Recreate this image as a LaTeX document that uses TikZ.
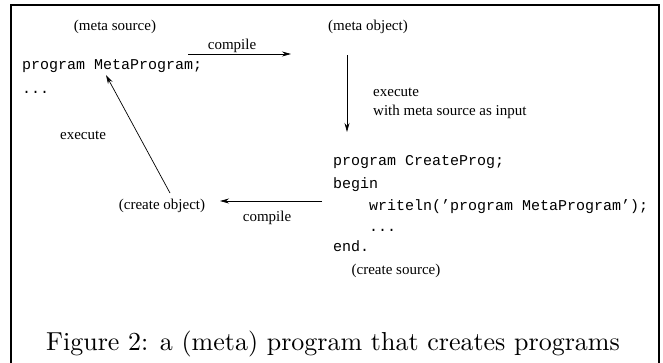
\documentclass[tikz,border=0pt]{standalone}
\usepackage{fontspec}
\usetikzlibrary{arrows.meta, positioning}
\newfontfamily\lblfont{Liberation Serif}
\newfontfamily\codefont{Liberation Mono}
\newfontfamily\capfont{lmroman10-regular.otf}

\tikzset{
  lbl/.style={font=\lblfont\fontsize{15}{18}\selectfont, inner sep=0pt, anchor=base},
  lblw/.style={lbl, anchor=base west},
  codeline/.style={font=\codefont\fontsize{15}{18}\selectfont, inner sep=0pt, anchor=base west},
  flow/.style={-{Stealth[length=9pt,width=5pt,inset=3pt]}, line width=0.7pt},
}

\begin{document}
\begin{tikzpicture}[x=1pt,y=-1pt]
  \useasboundingbox (0,0) rectangle (663,362);
  % frame
  \draw[line width=1.6pt] (11,370) -- (11,5) -- (659,5) -- (659,370);

  % meta source
  \node[lbl] (metasrc) at (115,30) {(meta source)};
  \node[codeline] (metaprog) at (22,69) {program MetaProgram;};
  \node[codeline] (metadots) at (22,93) {...};

  % meta object
  \node[lbl] (metaobj) at (368,30) {(meta object)};
  \coordinate (cmpAs) at (188,54);
  \coordinate (cmpAe) at (291,54);
  \draw[flow] (cmpAs) -- (cmpAe);
  \node[lbl] (cmpA) at (232,49) {compile};

  % execute with input
  \coordinate (exeAs) at (347,55);
  \coordinate (exeAe) at (347,132);
  \draw[flow] (exeAs) -- (exeAe);
  \node[lblw] (exeA) at (373,96) {execute};
  \node[lblw] (exeAin) at (373,115) {with meta source as input};

  % create source
  \node[codeline] (cline1) at (333,165) {program CreateProg;};
  \node[codeline] (cline2) at (333,188) {begin};
  \node[codeline] (cline3) at (333,210) {\ \ \ \ writeln(’program MetaProgram’);};
  \node[codeline] (cline4) at (333,231) {\ \ \ \ ...};
  \node[codeline] (cline5) at (333,251) {end.};
  \node[lbl] (createsrc) at (396,274) {(create source)};

  % create object
  \coordinate (cmpBs) at (322,201);
  \coordinate (cmpBe) at (220,201);
  \draw[flow] (cmpBs) -- (cmpBe);
  \node[lbl] (cmpB) at (267,221) {compile};
  \node[lbl] (createobj) at (162,209) {(create object)};

  % execute back to meta source
  \coordinate (exeBs) at (170,193);
  \coordinate (exeBe) at (106,75);
  \draw[flow] (exeBs) -- (exeBe);
  \node[lbl] (exeB) at (83,139) {execute};

  % caption
  \node[font=\capfont\fontsize{26}{30}\selectfont, inner sep=0pt, anchor=base] (caption) at (333,350)
    {Figure 2: a (meta) program that creates programs};
\end{tikzpicture}
\end{document}
